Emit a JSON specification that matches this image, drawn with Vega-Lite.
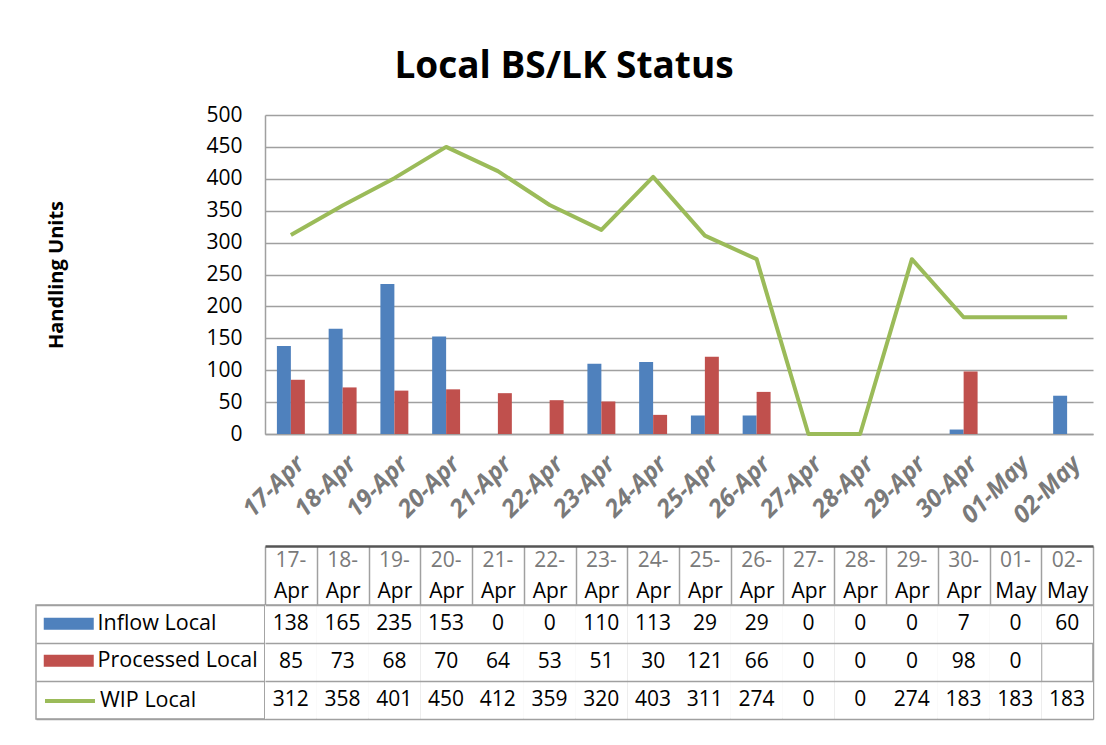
{
  "$schema": "https://vega.github.io/schema/vega-lite/v6.json",
  "padding": {"left": 35, "top": 48, "right": 14, "bottom": 28},
  "config": {
    "font": "Open Sans",
    "view": {"stroke": null},
    "axis": {"labelFont": "Open Sans", "titleFont": "Open Sans", "labelColor": "black", "titleColor": "black"},
    "legend": {"labelFont": "Open Sans", "labelFontSize": 21.5, "labelColor": "black", "labelOffset": 18, "labelLimit": 300, "symbolSize": 400, "padding": 0, "orient": "none"}
  },
  "data": {"values": [
    {"d": "17-Apr", "s": "Inflow Local", "v": 138},
    {"d": "18-Apr", "s": "Inflow Local", "v": 165},
    {"d": "19-Apr", "s": "Inflow Local", "v": 235},
    {"d": "20-Apr", "s": "Inflow Local", "v": 153},
    {"d": "21-Apr", "s": "Inflow Local", "v": 0},
    {"d": "22-Apr", "s": "Inflow Local", "v": 0},
    {"d": "23-Apr", "s": "Inflow Local", "v": 110},
    {"d": "24-Apr", "s": "Inflow Local", "v": 113},
    {"d": "25-Apr", "s": "Inflow Local", "v": 29},
    {"d": "26-Apr", "s": "Inflow Local", "v": 29},
    {"d": "27-Apr", "s": "Inflow Local", "v": 0},
    {"d": "28-Apr", "s": "Inflow Local", "v": 0},
    {"d": "29-Apr", "s": "Inflow Local", "v": 0},
    {"d": "30-Apr", "s": "Inflow Local", "v": 7},
    {"d": "01-May", "s": "Inflow Local", "v": 0},
    {"d": "02-May", "s": "Inflow Local", "v": 60},
    {"d": "17-Apr", "s": "Processed Local", "v": 85},
    {"d": "18-Apr", "s": "Processed Local", "v": 73},
    {"d": "19-Apr", "s": "Processed Local", "v": 68},
    {"d": "20-Apr", "s": "Processed Local", "v": 70},
    {"d": "21-Apr", "s": "Processed Local", "v": 64},
    {"d": "22-Apr", "s": "Processed Local", "v": 53},
    {"d": "23-Apr", "s": "Processed Local", "v": 51},
    {"d": "24-Apr", "s": "Processed Local", "v": 30},
    {"d": "25-Apr", "s": "Processed Local", "v": 121},
    {"d": "26-Apr", "s": "Processed Local", "v": 66},
    {"d": "27-Apr", "s": "Processed Local", "v": 0},
    {"d": "28-Apr", "s": "Processed Local", "v": 0},
    {"d": "29-Apr", "s": "Processed Local", "v": 0},
    {"d": "30-Apr", "s": "Processed Local", "v": 98},
    {"d": "01-May", "s": "Processed Local", "v": 0},
    {"d": "17-Apr", "s": "WIP Local", "v": 312},
    {"d": "18-Apr", "s": "WIP Local", "v": 358},
    {"d": "19-Apr", "s": "WIP Local", "v": 401},
    {"d": "20-Apr", "s": "WIP Local", "v": 450},
    {"d": "21-Apr", "s": "WIP Local", "v": 412},
    {"d": "22-Apr", "s": "WIP Local", "v": 359},
    {"d": "23-Apr", "s": "WIP Local", "v": 320},
    {"d": "24-Apr", "s": "WIP Local", "v": 403},
    {"d": "25-Apr", "s": "WIP Local", "v": 311},
    {"d": "26-Apr", "s": "WIP Local", "v": 274},
    {"d": "27-Apr", "s": "WIP Local", "v": 0},
    {"d": "28-Apr", "s": "WIP Local", "v": 0},
    {"d": "29-Apr", "s": "WIP Local", "v": 274},
    {"d": "30-Apr", "s": "WIP Local", "v": 183},
    {"d": "01-May", "s": "WIP Local", "v": 183},
    {"d": "02-May", "s": "WIP Local", "v": 183}
  ]},
  "columns": 2,
  "bounds": "flush",
  "spacing": {"row": 171, "column": 0},
  "concat": [
    {
      "width": 229, "height": 319,
      "data": {"values": [{"k": 1}]},
      "mark": {"type": "text"},
      "encoding": {"text": {"value": ""}}
    },
    {
      "width": 828, "height": 319,
      "title": {"text": "Local BS/LK Status", "font": "Open Sans", "fontSize": 37, "fontWeight": "bold", "anchor": "middle", "frame": "group", "dx": -115, "offset": -11, "baseline": "alphabetic", "color": "black"},
      "encoding": {
        "x": {"field": "d", "type": "nominal", "sort": null, "title": null,
          "scale": {"paddingInner": 0.46, "paddingOuter": 0.23},
          "axis": {"labelAngle": -45, "labelAlign": "right", "labelBaseline": "middle", "labelFontSize": 24.5, "labelFontWeight": "bold", "labelFontStyle": "italic", "labelColor": "#7a7a7a", "labelPadding": 26, "labelOffset": 10, "ticks": false, "domainColor": "#a0a0a0", "domainWidth": 1.5}},
        "y": {"field": "v", "type": "quantitative", "title": "Handling Units",
          "scale": {"domain": [0, 500]},
          "axis": {"values": [0, 50, 100, 150, 200, 250, 300, 350, 400, 450, 500], "ticks": false, "domainColor": "#a0a0a0", "domainWidth": 1.5, "gridColor": "#a0a0a0", "gridWidth": 1.5, "labelFontSize": 21, "labelPadding": 23, "titleFontSize": 20, "titleFontWeight": "bold", "titlePadding": 139}}
      },
      "layer": [
        {
          "transform": [{"filter": "datum.s !== 'WIP Local'"}],
          "mark": {"type": "bar"},
          "encoding": {
            "xOffset": {"field": "s", "type": "nominal", "sort": ["Inflow Local", "Processed Local"]},
            "color": {"field": "s", "type": "nominal",
              "scale": {"domain": ["Inflow Local", "Processed Local"], "range": ["#4F81BD", "#C0504D"]},
              "legend": {"orient": "none", "legendX": 22, "legendY": 498, "title": null, "rowPadding": 14,
                "symbolType": "M-2.5,-0.6H2.5V0.6H-2.5Z", "symbolStrokeWidth": 0}}
          }
        },
        {
          "transform": [{"filter": "datum.s === 'WIP Local'"}],
          "mark": {"type": "line", "strokeWidth": 4, "strokeJoin": "round"},
          "encoding": {
            "stroke": {"field": "s", "type": "nominal",
              "scale": {"domain": ["WIP Local"], "range": ["#9BBB59"]},
              "legend": {"orient": "none", "legendX": 22, "legendY": 574, "title": null,
                "symbolType": "M-2.5,0H2.5", "symbolStrokeWidth": 4, "symbolFillColor": "transparent"}}
          }
        }
      ]
    },
    {
      "width": 229, "height": 114,
      "view": {"stroke": "#a0a0a0", "strokeWidth": 1.5},
      "transform": [{"filter": "datum.d === '17-Apr'"}],
      "mark": {"type": "text"},
      "encoding": {
        "text": {"value": ""},
        "y": {"field": "s", "type": "nominal", "sort": ["Inflow Local", "Processed Local", "WIP Local"], "title": null,
          "scale": {"paddingInner": 0, "paddingOuter": 0},
          "axis": {"labels": false, "ticks": false, "domain": false, "grid": true, "tickBand": "extent", "gridColor": "#a0a0a0", "gridWidth": 1.5}}
      }
    },
    {
      "width": 828, "height": 114,
      "view": {"stroke": "#a0a0a0", "strokeWidth": 1.5},
      "encoding": {
        "y": {"field": "s", "type": "nominal", "sort": ["Inflow Local", "Processed Local", "WIP Local"], "title": null,
          "scale": {"paddingInner": 0, "paddingOuter": 0},
          "axis": {"labels": false, "ticks": false, "domain": false, "grid": true, "tickBand": "extent", "gridColor": "#a0a0a0", "gridWidth": 1.5}}
      },
      "layer": [
        {
          "mark": {"type": "rect", "fill": "white"},
          "encoding": {
            "x": {"field": "d", "type": "nominal", "sort": null, "title": null,
              "scale": {"paddingInner": 0, "paddingOuter": 0},
              "axis": {"orient": "top", "offset": 59, "domain": true, "domainColor": "#555555", "domainWidth": 2.5, "ticks": false, "grid": false, "labelAngle": 0, "labelExpr": "slice(datum.label, 0, 3)", "labelColor": "#7a7a7a", "labelFontSize": 21, "labelBaseline": "middle", "labelPadding": -14}}
          }
        },
        {
          "mark": {"type": "text", "fontSize": 21, "color": "black"},
          "encoding": {
            "x": {"field": "d", "type": "nominal", "sort": null, "title": null,
              "scale": {"paddingInner": 0, "paddingOuter": 0},
              "axis": {"orient": "top", "domain": false, "ticks": true, "tickBand": "extent", "tickSize": 59, "tickColor": "#a0a0a0", "tickWidth": 1.5, "grid": true, "gridColor": "#a0a0a0", "gridWidth": 1.5, "labelAngle": 0, "labelExpr": "slice(datum.label, 3)", "labelFontSize": 21, "labelBaseline": "middle", "labelPadding": -45}},
            "text": {"field": "v", "type": "quantitative"}
          }
        }
      ],
      "resolve": {"axis": {"x": "independent"}}
    }
  ]
}
